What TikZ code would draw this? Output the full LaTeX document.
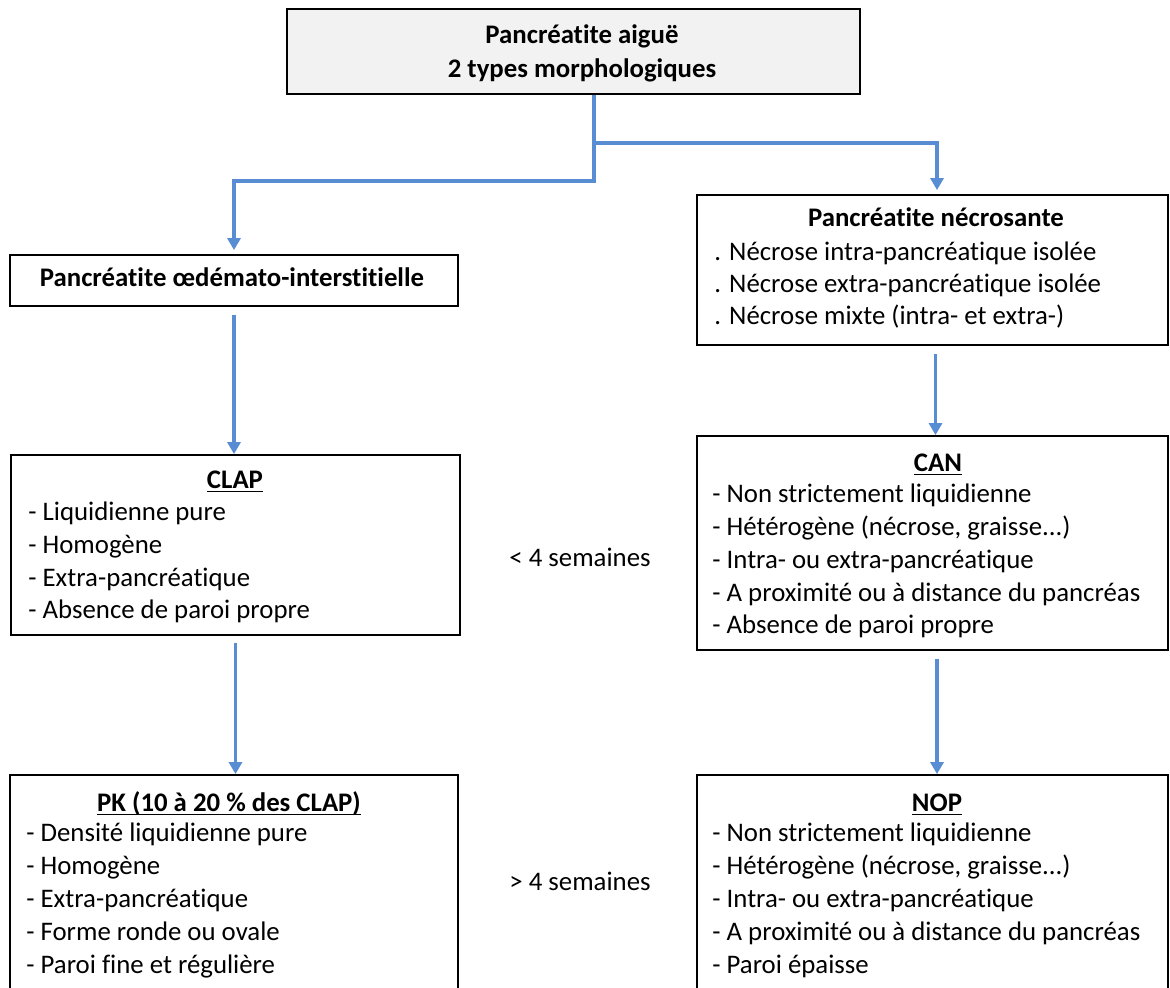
\documentclass[tikz,border=0pt]{standalone}
\usepackage{fontspec}
\setmainfont{Carlito}[Ligatures={NoCommon}]
\usetikzlibrary{arrows.meta}
\definecolor{linkblue}{RGB}{89,141,211}
\definecolor{boxgray}{RGB}{242,242,242}
\newcommand{\souligne}[1]{\setbox0\hbox{#1}\rlap{\vrule height -1.5pt depth 2.2pt width \wd0}\box0}

\begin{document}
\begin{tikzpicture}[x=0.5pt,y=-0.5pt,
  box/.style={draw=black,line width=0.9pt,rectangle,inner sep=0pt},
  link/.style={draw=linkblue,line width=1.75pt,-{Triangle[width=6.5pt,length=6pt]}},
  txt/.style={inner sep=0pt,font=\fontsize{13.4}{16}\selectfont},
  head/.style={inner sep=0pt,font=\fontsize{13.4}{16}\selectfont\bfseries}]
\useasboundingbox (0,0) rectangle (1170,988);

\node[box,fill=boxgray,minimum width=286.5pt,minimum height=42.5pt] (aigue) at (573.5,51.5) {};
\node[box,minimum width=224pt,minimum height=25.5pt] (oedeme) at (234,280.5) {};
\node[box,minimum width=235.5pt,minimum height=75pt] (necrose) at (932.5,270) {};
\node[box,minimum width=224.5pt,minimum height=90pt] (clap) at (235.5,545) {};
\node[box,minimum width=235.5pt,minimum height=107pt] (can) at (932.5,543) {};
\node[box,minimum width=224pt,minimum height=112.5pt] (pk) at (234,887.5) {};
\node[box,minimum width=235.5pt,minimum height=112.5pt] (nop) at (932.5,887.5) {};

\node[head,anchor=base] (aigue1) at (582,44) {Pancréatite aiguë};
\node[head,anchor=base] (aigue2) at (582,78) {2 types morphologiques};

\node[head,anchor=base] (oedeme1) at (232,287) {Pancréatite œdémato-interstitielle};

\node[head,anchor=base] (necrose1) at (936,227) {Pancréatite nécrosante};
\node[txt,anchor=base west] (necrose2) at (714,261) {. Nécrose intra-pancréatique isolée};
\node[txt,anchor=base west] (necrose3) at (714,293) {. Nécrose extra-pancréatique isolée};
\node[txt,anchor=base west] (necrose4) at (714,325) {. Nécrose mixte (intra- et extra-)};

\node[head,anchor=base] (clap1) at (235,488) {\souligne{CLAP}};
\node[txt,anchor=base west] (clap2) at (28,520) {- Liquidienne pure};
\node[txt,anchor=base west] (clap3) at (28,553) {- Homogène};
\node[txt,anchor=base west] (clap4) at (28,586) {- Extra-pancréatique};
\node[txt,anchor=base west] (clap5) at (28,618) {- Absence de paroi propre};

\node[head,anchor=base] (can1) at (938,471) {\souligne{CAN}};
\node[txt,anchor=base west] (can2) at (712,502) {- Non strictement liquidienne};
\node[txt,anchor=base west] (can3) at (712,535) {- Hétérogène (nécrose, graisse...)};
\node[txt,anchor=base west] (can4) at (712,568) {- Intra- ou extra-pancréatique};
\node[txt,anchor=base west] (can5) at (712,601) {- A proximité ou à distance du pancréas};
\node[txt,anchor=base west] (can6) at (712,633) {- Absence de paroi propre};

\node[head,anchor=base] (pk1) at (229,811) {\souligne{PK (10 à 20 \% des CLAP)}};
\node[txt,anchor=base west] (pk2) at (26,841) {- Densité liquidienne pure};
\node[txt,anchor=base west] (pk3) at (26,874) {- Homogène};
\node[txt,anchor=base west] (pk4) at (26,907) {- Extra-pancréatique};
\node[txt,anchor=base west] (pk5) at (26,940) {- Forme ronde ou ovale};
\node[txt,anchor=base west] (pk6) at (26,973) {- Paroi fine et régulière};

\node[head,anchor=base] (nop1) at (937,811) {\souligne{NOP}};
\node[txt,anchor=base west] (nop2) at (712,841) {- Non strictement liquidienne};
\node[txt,anchor=base west] (nop3) at (712,874) {- Hétérogène (nécrose, graisse...)};
\node[txt,anchor=base west] (nop4) at (712,907) {- Intra- ou extra-pancréatique};
\node[txt,anchor=base west] (nop5) at (712,940) {- A proximité ou à distance du pancréas};
\node[txt,anchor=base west] (nop6) at (712,973) {- Paroi épaisse};

\node[txt,anchor=base] (moins) at (580,566) {< 4 semaines};
\node[txt,anchor=base] (plus) at (580,890) {> 4 semaines};

\coordinate (split) at (594,143);
\coordinate (bend) at (594,181);
\draw[link,shorten >=2pt] (aigue.south -| bend) -- (bend) -| (oedeme.north);
\draw[link,shorten >=2pt] (split) -| ([xshift=2.25pt]necrose.north);
\draw[link,shorten <=4pt] (oedeme.south) -- (oedeme.south |- clap.north);
\draw[link,shorten <=4pt] ([xshift=1.5pt]necrose.south) -- ([xshift=1.5pt]necrose.south |- can.north);
\draw[link,shorten <=3.5pt] (clap.south) -- (clap.south |- pk.north);
\draw[link,shorten <=4pt] ([xshift=2.25pt]can.south) -- ([xshift=2.25pt]can.south |- nop.north);
\end{tikzpicture}
\end{document}
